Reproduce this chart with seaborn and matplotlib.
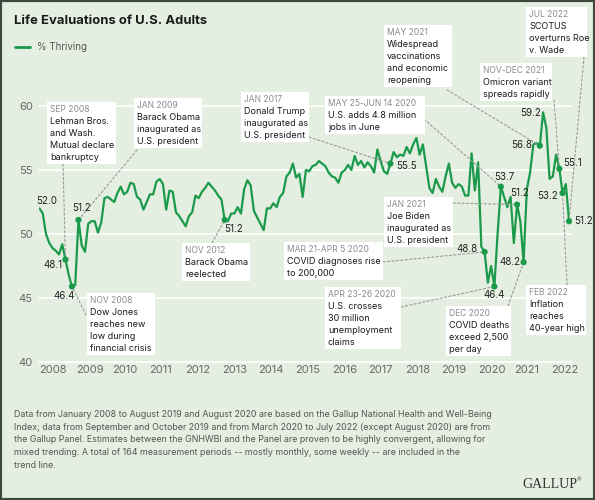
import numpy as np
import pandas as pd
import seaborn as sns
import matplotlib.pyplot as plt
from matplotlib.patches import Rectangle
from matplotlib.lines import Line2D

# --- data (one value per measurement period, Jan 2008 -> Jul 2022) ---
thriving = [
    52.0, 51.6, 50.0, 49.3, 48.9, 48.7, 48.4, 49.2, 48.0, 46.8, 45.9, 46.0,
    51.1, 49.1, 48.6, 50.8, 51.0, 51.0, 50.1, 50.9, 52.8, 52.9, 52.7, 52.5,
    53.2, 53.7, 53.1, 53.3, 54.0, 53.9, 52.9, 52.7, 51.9, 52.5, 53.1, 53.1,
    54.1, 54.3, 53.9, 51.9, 53.4, 53.3, 51.7, 51.4, 51.0, 50.6, 51.4, 51.7,
    53.0, 52.8, 53.3, 53.6, 54.0, 53.7, 53.4, 53.0, 52.7, 51.1, 51.0, 51.6,
    51.6, 52.1, 51.6, 53.5, 54.2, 53.8, 51.8, 51.3, 50.8, 50.3, 52.0, 52.0,
    52.4, 52.1, 52.9, 53.2, 54.5, 54.8, 55.5, 54.4, 54.7, 52.9, 55.0, 54.9,
    55.3, 55.4, 55.7, 55.5, 55.3, 54.8, 54.5, 54.4, 54.0, 54.8, 55.0, 55.4,
    55.0, 56.1, 55.4, 55.7, 55.2, 55.6, 55.3, 54.8, 56.6, 55.7, 54.9, 54.7,
    55.5, 56.4, 56.0, 56.2, 56.1, 56.8, 56.3, 57.0, 57.5, 56.2, 57.0, 55.3,
    53.6, 53.2, 54.3, 53.7, 53.3, 54.5, 55.5, 54.0, 53.6, 53.9, 53.7, 53.0,
    53.0, 56.3, 53.4, 55.6, 49.0, 48.6, 46.2, 47.5, 45.9, 50.0, 53.7, 52.9,
    52.1, 52.9, 49.3, 52.3, 51.0, 47.8, 53.5, 54.8, 57.0, 57.1, 56.9, 59.5,
    58.3, 54.3, 54.5, 56.2, 55.1, 53.2, 53.9, 51.0,
]
year_labels = [str(y) for y in range(2008, 2023)]
y_ticks = [40, 45, 50, 55, 60]

# labelled points
callout_idx = [0, 8, 10, 12, 57, 108, 137, 140, 142, 147, 149, 154, 155, 160, 161, 163]
callout_text = ["52.0", "48.1", "46.4", "51.2", "51.2", "55.5", "48.8", "46.4",
                "53.7", "51.2", "48.2", "56.8", "59.2", "55.1", "53.2", "51.2"]
dot_idx = [8, 10, 12, 57, 108, 137, 140, 142, 147, 149, 154, 160, 161, 163]

# event boxes
event_dates = ["SEP 2008", "JAN 2009", "NOV 2012", "NOV 2008", "JAN 2017",
               "MAY 25-JUN 14 2020", "MAY 2021", "NOV-DEC 2021", "JUL 2022",
               "MAR 21-APR 5 2020", "APR 23-26 2020", "JAN 2021", "DEC 2020",
               "FEB 2022"]
event_texts = [
    ["Lehman Bros.", "and Wash.", "Mutual declare", "bankruptcy"],
    ["Barack Obama", "inaugurated as", "U.S. president"],
    ["Barack Obama", "reelected"],
    ["Dow Jones", "reaches new", "low during", "financial crisis"],
    ["Donald Trump", "inaugurated as", "U.S. president"],
    ["U.S. adds 4.8 million", "jobs in June"],
    ["Widespread", "vaccinations", "and economic", "reopening"],
    ["Omicron variant", "spreads rapidly"],
    ["SCOTUS", "overturns Roe", "v. Wade"],
    ["COVID diagnoses rise", "to 200,000"],
    ["U.S. crosses", "30 million", "unemployment", "claims"],
    ["Joe Biden", "inaugurated as", "U.S. president"],
    ["COVID deaths", "exceed 2,500", "per day"],
    ["Inflation", "reaches", "40-year high"],
]
event_target = [8, 12, 57, 10, 108, 142, 154, 160, 163, 137, 140, 147, 149, 161]

# --- layout (pixels, origin top-left) ---
W, H = 595, 500
box_xy = [(47, 116, 102), (134, 202, 98), (182, 250, 243), (87, 155, 293),
          (241, 309, 92), (325, 425, 96), (384, 452, 25), (480, 552, 63),
          (526, 587, 7), (284, 383, 242), (325, 401, 287), (384, 453, 197),
          (446, 511, 306), (526, 586, 285)]
leader_from = [(63, 164), (137, 150), (212, 243), (86, 315), (309, 137),
               (424, 119), (447, 90), (554, 100), (584, 57), (383, 262),
               (401, 307), (453, 203), (508, 306), (567, 285)]
# value label offsets: dx, dy (px, down positive), ha
label_off = [(7, -7, 'center'), (-3, 5, 'right'), (-7.5, 10, 'center'),
             (3, -12, 'center'), (9, 9, 'center'), (6, 2, 'left'),
             (-6.5, -3, 'right'), (0, 9, 'center'), (3.7, -10, 'center'),
             (2.5, -12, 'center'), (-3, 0, 'right'), (-8, -1, 'right'),
             (-2, 1, 'right'), (4, -6, 'left'), (-4.5, 3, 'right'), (5, 0, 'left')]

BG = '#e4efe1'
GREEN = '#1b9a4b'
GREY = '#666666'

sns.set_theme(style='white', rc={'axes.facecolor': BG, 'figure.facecolor': BG})
plt.rcParams['font.family'] = ['Inter', 'DejaVu Sans']


def fx(x):
    return x / W


def fy(y):
    return 1 - y / H


fig = plt.figure(figsize=(W / 100, H / 100), dpi=100, facecolor=BG)
ax = fig.add_axes([fx(39), fy(362), (572 - 39) / W, (362 - 106) / H])

df = pd.DataFrame({'period': np.arange(len(thriving)), 'thriving': thriving})
sns.lineplot(data=df, x='period', y='thriving', color=GREEN, lw=1.6, ax=ax, zorder=3)
sns.scatterplot(data=df.loc[dot_idx], x='period', y='thriving', color=GREEN,
                s=20, edgecolor='none', ax=ax, zorder=4)

ax.set_xlim(-0.15, 163.9)
ax.set_ylim(40, 60)
ax.set_yticks(y_ticks)
ax.set_xticks(np.arange(len(year_labels)) * 11.24, year_labels)
for t in ax.get_xticklabels():
    t.set_ha('left')
ax.tick_params(axis='x', length=0, pad=2, labelsize=8, labelcolor=GREY)
ax.tick_params(axis='y', length=0, pad=4.5, labelsize=8, labelcolor=GREY)
ax.set_xlabel('')
ax.set_ylabel('')
ax.grid(axis='y', color='white', lw=1.2)
ax.grid(axis='x', visible=False)
for g in ax.yaxis.get_gridlines():
    g.set_clip_on(False)
ax.set_axisbelow(True)
sns.despine(ax=ax, left=True, bottom=True)

# value labels
for i, txt, (dx, dy, ha) in zip(callout_idx, callout_text, label_off):
    ax.annotate(txt, xy=(i, thriving[i]), xytext=(dx * 0.72, -dy * 0.72),
                textcoords='offset points', ha=ha, va='center',
                fontsize=7, color='#222222', zorder=5)

# leader lines
for (lx, ly), i in zip(leader_from, event_target):
    ax.annotate('', xy=(i, thriving[i]), xycoords='data',
                xytext=(lx, H - ly), textcoords='figure pixels',
                arrowprops=dict(arrowstyle='-', color='#9a9a9a', lw=0.8,
                                ls=(0, (2, 2)), shrinkA=0, shrinkB=0))

# event boxes
for (x0, x1, y0), date, lines in zip(box_xy, event_dates, event_texts):
    y1 = y0 + 19.5 + (len(lines) - 1) * 11.9 + 7
    fig.add_artist(Rectangle((fx(x0), fy(y1)), (x1 - x0) / W, (y1 - y0) / H,
                             transform=fig.transFigure, facecolor='white',
                             edgecolor='none', zorder=2))
    fig.text(fx(x0 + 3), fy(y0 + 7.5), date, fontsize=6.1, color='#8c8c8c',
             va='center', ha='left', zorder=3)
    for k, line in enumerate(lines):
        fig.text(fx(x0 + 3), fy(y0 + 19.5 + k * 11.9), line, fontsize=6.5,
                 color='#1a1a1a', va='center', ha='left', zorder=3)

# title and legend
fig.text(fx(14), fy(24), "Life Evaluations of U.S. Adults", fontsize=9.4,
         fontweight='bold', color='#1a1a1a', va='baseline', ha='left')
fig.add_artist(Line2D([fx(15), fx(30)], [fy(47), fy(47)], color=GREEN, lw=2,
                      transform=fig.transFigure))
fig.text(fx(37), fy(47), "% Thriving", fontsize=7, color='#555555', va='center')

# footnote
note = [
    "Data from January 2008 to August 2019 and August 2020 are based on the Gallup National Health and Well-Being",
    "Index; data from September and October 2019 and from March 2020 to July 2022 (except August 2020) are from",
    "the Gallup Panel. Estimates between the GNHWBI and the Panel are proven to be highly convergent, allowing for",
    "mixed trending. A total of 164 measurement periods -- mostly monthly, some weekly -- are included in the",
    "trend line.",
]
for k, line in enumerate(note):
    fig.text(fx(14), fy(414.5 + k * 12.7), line, fontsize=6.4, color='#555555',
             va='center', ha='left')

fig.text(fx(550), fy(485), "GALLUP", fontsize=10, color='#333333',
         family='Liberation Serif', ha='center', va='center')
fig.text(fx(579), fy(480), "\u00ae", fontsize=3.5, color='#333333',
         family='DejaVu Sans', ha='center', va='center')

fig.add_artist(Rectangle((0, 0), 1, 1, transform=fig.transFigure, fill=False,
                         edgecolor='#3d4841', lw=3))

fig.savefig('out.png', dpi=100, facecolor=BG)
